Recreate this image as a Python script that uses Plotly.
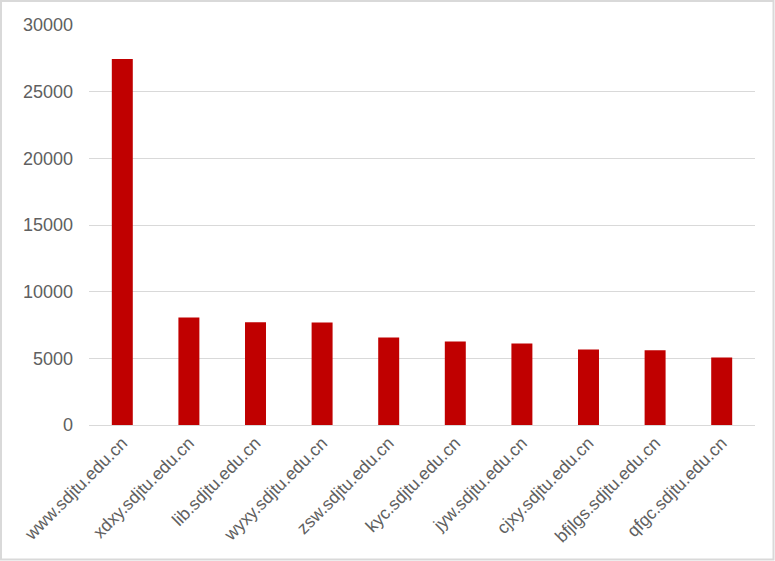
import plotly.graph_objects as go

categories = ["www.sdjtu.edu.cn", "xdxy.sdjtu.edu.cn", "lib.sdjtu.edu.cn", "wyxy.sdjtu.edu.cn",
              "zsw.sdjtu.edu.cn", "kyc.sdjtu.edu.cn", "jyw.sdjtu.edu.cn", "cjxy.sdjtu.edu.cn",
              "bfjlgs.sdjtu.edu.cn", "qfgc.sdjtu.edu.cn"]
values = [27450, 8070, 7700, 7690, 6570, 6270, 6120, 5670, 5600, 5070]
y_ticks = [0, 5000, 10000, 15000, 20000, 25000, 30000]
y_tick_labels = ["0", "5000", "10000", "15000", "20000", "25000", "30000"]

W, H = 775, 561
ml, mr, mt, mb = 89, 20, 25, 136
pw, ph = W - ml - mr, H - mt - mb

fig = go.Figure(go.Bar(x=categories, y=values, marker=dict(color="#C00000", line=dict(width=0))))

fig.update_layout(
    width=W, height=H,
    margin=dict(l=ml, r=mr, t=mt, b=mb, autoexpand=False),
    paper_bgcolor="white", plot_bgcolor="white",
    bargap=0.685,
    showlegend=False,
    font=dict(family="Liberation Sans, Arial, sans-serif", color="#595959"),
    xaxis=dict(tickangle=-45, tickfont=dict(size=17.5, color="#606060"), showgrid=False,
               showline=True, linecolor="#d9d9d9", linewidth=1, ticks="", automargin=False),
    yaxis=dict(range=[0, 30000], tickvals=y_ticks, ticktext=y_tick_labels,
               tickfont=dict(size=18, color="#606060"),
               showgrid=True, gridcolor="#d9d9d9", gridwidth=1, zeroline=False,
               showline=False, ticks="", ticklabelstandoff=15, automargin=False),
    shapes=[dict(type="rect", xref="paper", yref="paper",
                 x0=-(ml - 1) / pw, x1=1 + (mr - 1.5) / pw,
                 y0=-(mb - 1.5) / ph, y1=1 + (mt - 1) / ph,
                 line=dict(color="#d9d9d9", width=2), layer="above")],
)

fig.write_html("out.html", config={"displayModeBar": False},
               post_script="document.body.style.margin='0';document.body.style.overflow='hidden';")
